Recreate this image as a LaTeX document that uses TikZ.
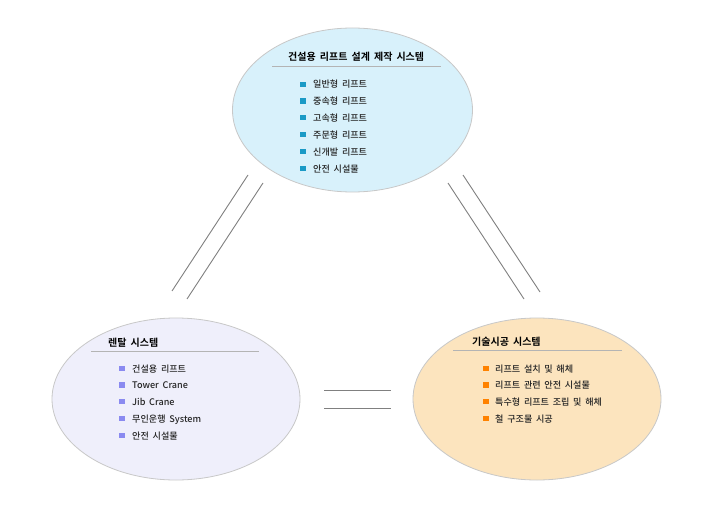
\documentclass[tikz,border=0pt]{standalone}
\usepackage{fontspec}
\setmainfont{Noto Sans CJK KR}
\newfontfamily\krfont[WordSpace=1.8]{Noto Sans CJK KR Medium}
\newfontfamily\krbold[WordSpace=1.8]{Noto Sans CJK KR Bold}
\usetikzlibrary{shapes.geometric}
\definecolor{topfill}{HTML}{D8F1FB}
\definecolor{leftfill}{HTML}{EFEFFB}
\definecolor{rightfill}{HTML}{FCE4BE}
\definecolor{edgegray}{HTML}{C8C8C8}
\definecolor{sepgray}{HTML}{B4B4B4}
\definecolor{linegray}{HTML}{808080}
\definecolor{bultop}{HTML}{1A9AC6}
\definecolor{bulleft}{HTML}{8A8AF0}
\definecolor{bulright}{HTML}{FF8200}
\tikzset{
  blob/.style={ellipse, draw=edgegray, line width=0.8pt, inner sep=0pt},
  ttl/.style={anchor=base, font=\krbold\fontsize{10}{12}\selectfont, text=black, inner sep=0pt},
  itm/.style={anchor=base west, font=\krfont\fontsize{9.1}{11}\selectfont, text=black!85, inner sep=0pt},
  sep/.style={draw=sepgray, line width=0.8pt},
  pair/.style={draw=linegray, line width=0.9pt},
}
\newcommand{\bul}[3]{\fill[#1] (#2-2.6,#3-6.4) rectangle (#2+2.6,#3-1.2);}
\begin{document}
\begin{tikzpicture}[x=1pt,y=-1pt]
\useasboundingbox (0,0) rectangle (718,508);
\fill[white] (0,0) rectangle (718,508);
% ellipses
\node[blob, fill=topfill, minimum width=240pt, minimum height=164pt] (top) at (352.5,110) {};
\node[blob, fill=leftfill, minimum width=248pt, minimum height=162pt] (left) at (176,399) {};
\node[blob, fill=rightfill, minimum width=248pt, minimum height=162pt] (right) at (537,399) {};
% top content
\node[ttl, anchor=base west] (tt) at (288,61) {건설용 리프트 설계 제작 시스템};
\draw[sep] (272,66) -- (441,66);
\foreach \t [count=\i] in {일반형 리프트,중속형 리프트,고속형 리프트,주문형 리프트,신개발 리프트,안전 시설물}{
  \pgfmathsetmacro{\yy}{88+16.8*(\i-1)}
  \bul{bultop}{303}{\yy}
  \node[itm] (t\i) at (313,\yy) {\t};
}
% left content
\node[ttl, anchor=base west] (lt) at (108,346) {렌탈 시스템};
\draw[sep] (91,351) -- (259,351);
\foreach \t [count=\i] in {건설용 리프트,Tower Crane,Jib Crane,무인운행 System,안전 시설물}{
  \pgfmathsetmacro{\yy}{372+16.8*(\i-1)}
  \bul{bulleft}{122}{\yy}
  \node[itm] (l\i) at (132,\yy) {\t};
}
% right content
\node[ttl, anchor=base west] (rt) at (472,345) {기술시공 시스템};
\draw[sep] (453,350) -- (622,350);
\foreach \t [count=\i] in {리프트 설치 및 해체,리프트 관련 안전 시설물,특수형 리프트 조립 및 해체,철 구조물 시공}{
  \pgfmathsetmacro{\yy}{372+16.8*(\i-1)}
  \bul{bulright}{486}{\yy}
  \node[itm] (r\i) at (495,\yy) {\t};
}
% connector pairs
\coordinate (a1) at (248,175); \coordinate (a2) at (172,291);
\coordinate (b1) at (263,183); \coordinate (b2) at (187,299);
\coordinate (c1) at (463,175); \coordinate (c2) at (540,292);
\coordinate (d1) at (448,183); \coordinate (d2) at (524,299);
\coordinate (e1) at (324,390); \coordinate (e2) at (391,390);
\coordinate (f1) at (324,408); \coordinate (f2) at (391,408);
\draw[pair] (a1) -- (a2);
\draw[pair] (b1) -- (b2);
\draw[pair] (c1) -- (c2);
\draw[pair] (d1) -- (d2);
\draw[pair] (e1) -- (e2);
\draw[pair] (f1) -- (f2);
\end{tikzpicture}
\end{document}
